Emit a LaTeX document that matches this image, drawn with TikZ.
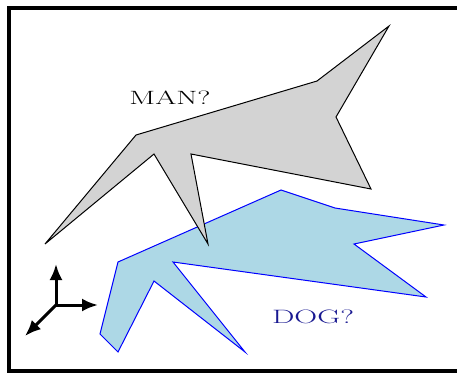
\documentclass[tikz,border=0pt]{standalone}
\usepackage{graphicx}
\usetikzlibrary{arrows.meta}
\definecolor{mangray}{RGB}{211,211,211}
\definecolor{doglight}{RGB}{173,216,230}
\definecolor{dogtext}{RGB}{25,25,145}
\begin{document}
\begin{tikzpicture}[x=1bp,y=-1bp,
  manshape/.style={draw=black,fill=mangray,line width=1bp,line join=miter},
  dogshape/.style={draw=blue,fill=doglight,line width=1bp,line join=miter},
  axisarrow/.style={line width=3bp,-{Latex[length=16bp,width=13bp]}},
  lbl/.style={inner sep=0pt,font=\fontsize{19.5}{24}\selectfont}]
\useasboundingbox (0,0) rectangle (457,374);
\draw[line width=4bp] (9,8) rectangle (462,371);
% dog
\draw[dogshape] (118,262) -- (281,190) -- (335,208) -- (444,225) -- (354,244)
  -- (426,297) -- (173,262) -- (245,352) -- (154,281) -- (118,352) -- (100,334) -- cycle;
% man
\draw[manshape] (45,244) -- (136,135) -- (317,81) -- (389,26) -- (336,117)
  -- (371,189) -- (191,154) -- (208,244) -- (154,154) -- cycle;
\node[lbl] (man) at (170,98) {\resizebox{81bp}{13.6bp}{MAN?}};
\node[lbl,text=dogtext] (dog) at (313,317.3) {\resizebox{82bp}{13.6bp}{DOG?}};
% axes
\coordinate (o) at (56,305);
\coordinate (up) at (56,264);
\coordinate (rt) at (98,305);
\coordinate (dl) at (25,336);
\draw[axisarrow] (o) -- (up);
\draw[axisarrow] (o) -- (rt);
\draw[axisarrow] (o) -- (dl);
\end{tikzpicture}
\end{document}
